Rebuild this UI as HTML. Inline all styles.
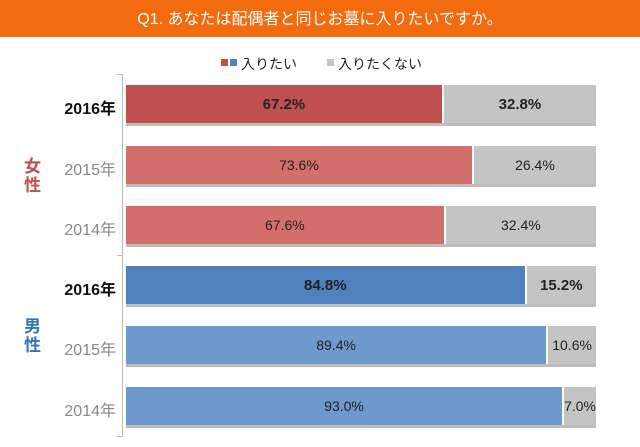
<!DOCTYPE html>
<html><head><meta charset="utf-8"><style>
body{margin:0;width:640px;height:447px;background:#fff;font-family:"Liberation Sans","Noto Sans CJK JP",sans-serif;position:relative;overflow:hidden}
.hdr{position:absolute;left:0;top:0;width:640px;height:37px;background:#f26b0f;color:#fff;font-size:16px;text-align:center;line-height:39px}
.bar{position:absolute;left:126px;width:470px;height:38px;display:flex;box-shadow:0 3px 0 #bdbdbd}
.bar div{height:100%;display:flex;align-items:center;justify-content:center;font-size:14px;color:#222;box-sizing:border-box}
.g{background:#c4c4c4;border-left:2px solid #fff}
.yl{position:absolute;right:524px;font-size:16px;color:#888}
.b{font-weight:bold;color:#111}
.sx{position:absolute;left:24px;font-size:17px;font-weight:bold;line-height:19px;width:20px}
</style></head><body>
<div class="hdr">Q1. あなたは配偶者と同じお墓に入りたいですか。</div>
<div style="position:absolute;left:221px;top:59px;width:7px;height:7px;background:#c0504d"></div>
<div style="position:absolute;left:230px;top:59px;width:7px;height:7px;background:#4f81bd"></div>
<div style="position:absolute;left:241px;top:54px;font-size:14px;color:#222">入りたい</div>
<div style="position:absolute;left:327px;top:59px;width:7px;height:7px;background:#c4c4c4"></div>
<div style="position:absolute;left:338px;top:54px;font-size:14px;color:#222">入りたくない</div>
<div style="position:absolute;left:122px;top:74px;width:1px;height:363px;background:#bbb"></div>
<div style="position:absolute;left:117px;top:74px;width:5px;height:1px;background:#bbb"></div>
<div style="position:absolute;left:117px;top:255px;width:5px;height:1px;background:#bbb"></div>
<div style="position:absolute;left:117px;top:436px;width:5px;height:1px;background:#bbb"></div>

<div class="bar" style="top:85px"><div class="b" style="width:67.2%;background:#c0504d;font-size:15px">67.2%</div><div class="g b" style="flex:1;font-size:15px">32.8%</div></div>
<div class="bar" style="top:146px"><div style="width:73.6%;background:#d26f6d">73.6%</div><div class="g" style="flex:1">26.4%</div></div>
<div class="bar" style="top:206px"><div style="width:67.6%;background:#d26f6d">67.6%</div><div class="g" style="flex:1">32.4%</div></div>
<div class="bar" style="top:266px"><div class="b" style="width:84.8%;background:#4f81bd;font-size:15px">84.8%</div><div class="g b" style="flex:1;font-size:15px">15.2%</div></div>
<div class="bar" style="top:326px"><div style="width:89.4%;background:#6d99cd">89.4%</div><div class="g" style="flex:1">10.6%</div></div>
<div class="bar" style="top:387px"><div style="width:93%;background:#6d99cd">93.0%</div><div class="g" style="flex:1">7.0%</div></div>

<div class="yl b" style="top:95px">2016年</div>
<div class="yl" style="top:156px">2015年</div>
<div class="yl" style="top:216px">2014年</div>
<div class="yl b" style="top:276px">2016年</div>
<div class="yl" style="top:336px">2015年</div>
<div class="yl" style="top:397px">2014年</div>
<div class="sx" style="top:157px;color:#c0504d">女<br>性</div>
<div class="sx" style="top:317px;color:#2e75b6">男<br>性</div>
</body></html>
